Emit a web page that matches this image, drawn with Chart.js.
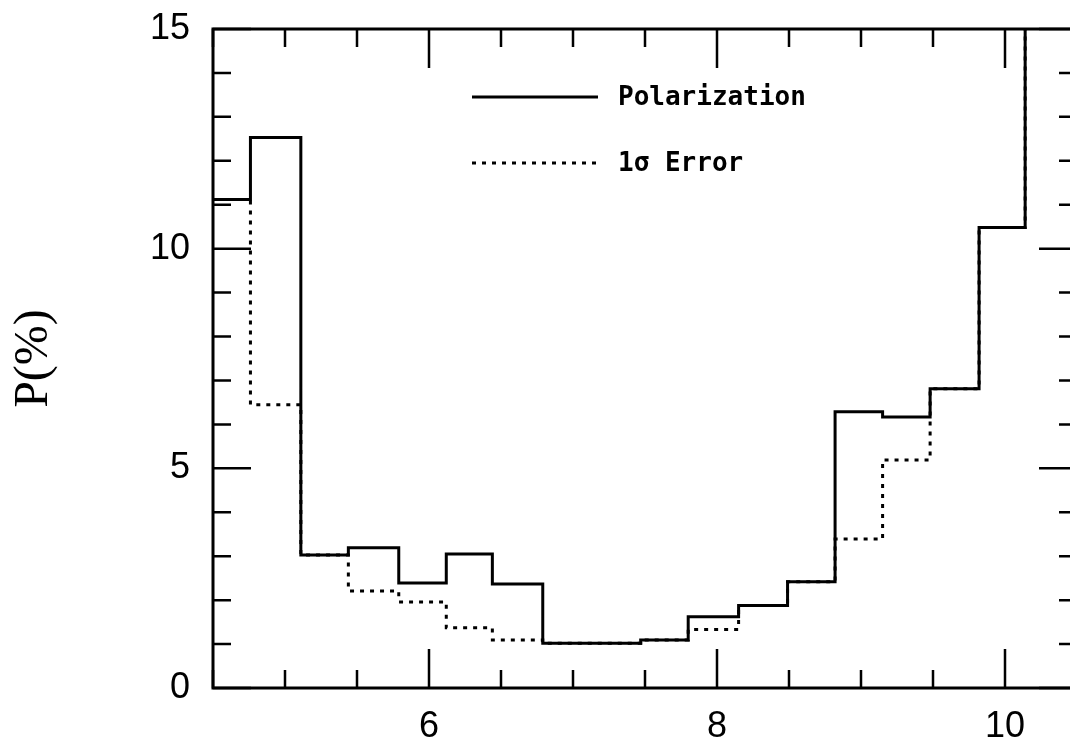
<!DOCTYPE html>
<html>
<head>
<meta charset="utf-8">
<title>Polarization</title>
<script src="https://cdn.jsdelivr.net/npm/chart.js@4.4.1/dist/chart.umd.min.js"></script>
<style>
    html, body { margin: 0; padding: 0; background: #fff; overflow: hidden; }
    #wrap { width: 1090px; height: 746px; }
</style>
</head>
<body>
<div id="wrap"><canvas id="polChart" width="1090" height="746"></canvas></div>
<script>
// ========================================
// DATA
// ========================================
// left edge of each bin, plus the right edge of the last one
const binEdges = [4.42, 4.76, 5.11, 5.44, 5.79, 6.12, 6.44, 6.79, 7.12, 7.47, 7.80, 8.15, 8.49, 8.82, 9.15, 9.48, 9.82, 10.14, 10.47];
const polarization = [11.12, 12.53, 3.03, 3.19, 2.39, 3.05, 2.37, 1.02, 1.02, 1.09, 1.62, 1.88, 2.42, 6.29, 6.17, 6.81, 10.48, 16.5];
const sigmaError = [11.12, 6.45, 3.03, 2.21, 1.96, 1.37, 1.09, 1.02, 1.02, 1.09, 1.33, 1.88, 2.42, 3.39, 5.19, 6.81, 10.48, 16.5];
const seriesNames = ['Polarization', '1σ Error'];
const xTickLabels = [6, 8, 10];
const yTickLabels = [0, 5, 10, 15];
const xMinorStep = 0.5;
const yMinorStep = 1;

// turn bins into points for a stepped line
function stepPoints(values) {
    const pts = values.map((v, i) => ({ x: binEdges[i], y: v }));
    pts.push({ x: binEdges[binEdges.length - 1], y: values[values.length - 1] });
    return pts;
}

// ========================================
// FRAME + INWARD TICKS
// ========================================
const frameTicks = {
    id: 'frameTicks',
    afterDatasetsDraw(chart) {
        const { ctx, chartArea: a, scales: { x, y } } = chart;
        ctx.save();
        ctx.strokeStyle = '#000';
        ctx.lineCap = 'butt';

        ctx.lineWidth = 2.5;
        // x ticks, bottom and top
        for (let v = x.min; v <= x.max + 1e-9; v += xMinorStep) {
            const px = x.getPixelForValue(v);
            const len = xTickLabels.includes(Math.round(v * 100) / 100) ? 39 : 18;
            ctx.beginPath();
            ctx.moveTo(px, a.bottom); ctx.lineTo(px, a.bottom - len);
            ctx.moveTo(px, a.top); ctx.lineTo(px, a.top + len);
            ctx.stroke();
        }
        // y ticks, left and right
        for (let v = y.min; v <= y.max + 1e-9; v += yMinorStep) {
            const py = y.getPixelForValue(v);
            const len = yTickLabels.includes(v) ? 38 : 18;
            ctx.beginPath();
            ctx.moveTo(a.left, py); ctx.lineTo(a.left + len, py);
            ctx.moveTo(a.right, py); ctx.lineTo(a.right - len, py);
            ctx.stroke();
        }

        ctx.lineWidth = 3;
        ctx.strokeRect(a.left, a.top, a.right - a.left, a.bottom - a.top);
        ctx.restore();
    }
};

// ========================================
// LEGEND INSIDE THE PLOT
// ========================================
const innerLegend = {
    id: 'innerLegend',
    afterDraw(chart) {
        const ctx = chart.ctx;
        const rows = [97, 163];
        ctx.save();
        chart.data.datasets.forEach((ds, i) => {
            ctx.strokeStyle = '#000';
            ctx.lineWidth = ds.borderWidth;
            ctx.setLineDash(ds.borderDash || []);
            ctx.beginPath();
            ctx.moveTo(472, rows[i]);
            ctx.lineTo(598, rows[i]);
            ctx.stroke();
            ctx.setLineDash([]);
            ctx.fillStyle = '#000';
            ctx.font = 'bold 26px "DejaVu Sans Mono"';
            ctx.textBaseline = 'middle';
            ctx.textAlign = 'left';
            ctx.fillText(ds.label, 618, rows[i] + 1);
        });
        ctx.restore();
    }
};

// ========================================
// CHART
// ========================================
const tickFont = { family: '"Liberation Sans", Arial, sans-serif', size: 36 };

new Chart(document.getElementById('polChart').getContext('2d'), {
    type: 'line',
    data: {
        datasets: [{
            label: seriesNames[0],
            data: stepPoints(polarization),
            stepped: 'before',
            borderColor: '#000',
            borderWidth: 3,
            pointRadius: 0,
            fill: false
        }, {
            label: seriesNames[1],
            data: stepPoints(sigmaError),
            stepped: 'before',
            borderColor: '#000',
            borderWidth: 3,
            borderDash: [4, 6],
            pointRadius: 0,
            fill: false
        }]
    },
    options: {
        responsive: false,
        animation: false,
        layout: { padding: { left: 0, top: 29, right: 13, bottom: 0 } },
        plugins: {
            legend: { display: false },
            tooltip: { enabled: false }
        },
        scales: {
            x: {
                type: 'linear',
                min: 4.5,
                max: 10.5,
                grid: { display: false, drawTicks: false },
                border: { display: false },
                ticks: { color: '#000', font: tickFont, padding: 17, maxRotation: 0 },
                afterBuildTicks: scale => { scale.ticks = xTickLabels.map(v => ({ value: v })); },
                afterFit: scale => {
                    scale.height = 58;
                    scale.paddingLeft = 0;
                    scale.paddingRight = 0;
                }
            },
            y: {
                min: 0,
                max: 15,
                grid: { display: false, drawTicks: false },
                border: { display: false },
                ticks: { color: '#000', font: tickFont, padding: 23 },
                afterBuildTicks: scale => { scale.ticks = yTickLabels.map(v => ({ value: v })); },
                afterFit: scale => {
                    scale.width = 213;
                    scale.paddingTop = 0;
                    scale.paddingBottom = 0;
                },
                title: {
                    display: true,
                    text: 'P(%)',
                    color: '#000',
                    font: { family: '"Liberation Serif", "Times New Roman", serif', size: 48 },
                    padding: { top: 6, bottom: 0 }
                }
            }
        }
    },
    plugins: [frameTicks, innerLegend]
});
</script>
</body>
</html>
